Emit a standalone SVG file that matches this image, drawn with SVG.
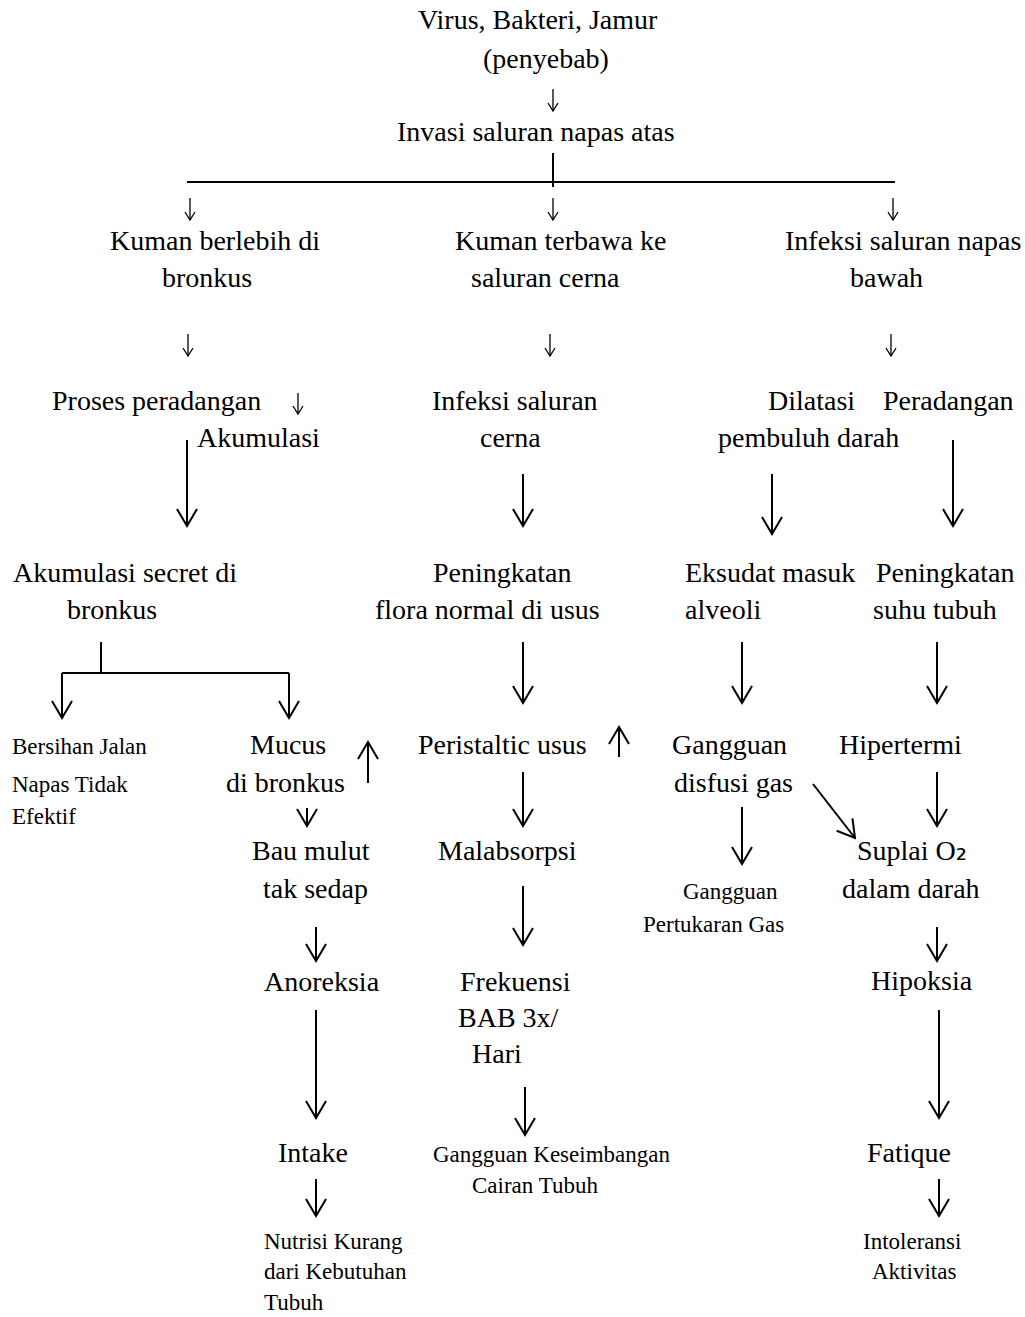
<svg xmlns="http://www.w3.org/2000/svg" width="1025" height="1317" viewBox="0 0 1025 1317">
<style>
text{font-family:"Liberation Serif","Times New Roman",serif;fill:#000}
.m{font-size:28px}
.s{font-size:23px}
.sub{font-family:"DejaVu Sans",sans-serif}
.ln{stroke:#000;stroke-width:2;fill:none}
.ar{stroke:#000;stroke-width:2;fill:none;marker-end:url(#big)}
.th{stroke:#000;stroke-width:1.3;fill:none;marker-end:url(#thin)}
</style>
<defs>
<marker id="big" markerUnits="userSpaceOnUse" orient="auto" refX="0" refY="0" markerWidth="24" markerHeight="26" viewBox="-21 -13 24 26" overflow="visible">
<path d="M-17,-10 L0,0 L-17,10" fill="none" stroke="#000" stroke-width="2"/>
</marker>
<marker id="thin" markerUnits="userSpaceOnUse" orient="auto" refX="0" refY="0" markerWidth="14" markerHeight="14" viewBox="-10 -7 14 14" overflow="visible">
<path d="M-8,-5 L0,0 L-8,5" fill="none" stroke="#000" stroke-width="1.3"/>
</marker>
</defs>
<rect width="1025" height="1317" fill="#fff"/>
<g id="connectors">
<line class="th" x1="553" y1="89" x2="553" y2="111"/>
<line class="ln" x1="553" y1="153" x2="553" y2="187"/>
<line class="ln" x1="187" y1="182" x2="895" y2="182"/>
<line class="th" x1="190" y1="198" x2="190" y2="220"/>
<line class="th" x1="553" y1="198" x2="553" y2="220"/>
<line class="th" x1="893" y1="198" x2="893" y2="220"/>
<line class="th" x1="188" y1="334" x2="188" y2="356"/>
<line class="th" x1="550" y1="334" x2="550" y2="356"/>
<line class="th" x1="891" y1="334" x2="891" y2="356"/>
<line class="th" x1="298" y1="393" x2="298" y2="414"/>
<line class="ar" x1="187" y1="440" x2="187" y2="526"/>
<line class="ar" x1="523" y1="474" x2="523" y2="526"/>
<line class="ar" x1="772" y1="474" x2="772" y2="534"/>
<line class="ar" x1="953" y1="440" x2="953" y2="526"/>
<line class="ln" x1="101" y1="642" x2="101" y2="673"/>
<line class="ln" x1="62" y1="673" x2="289" y2="673"/>
<line class="ar" x1="62" y1="673" x2="62" y2="718"/>
<line class="ar" x1="289" y1="673" x2="289" y2="718"/>
<line class="ar" x1="523" y1="642" x2="523" y2="703"/>
<line class="ar" x1="742" y1="642" x2="742" y2="703"/>
<line class="ar" x1="937" y1="642" x2="937" y2="703"/>
<line class="ar" x1="368" y1="783" x2="368" y2="742"/>
<line class="ar" x1="619" y1="757" x2="619" y2="727"/>
<line class="ar" x1="307" y1="808" x2="307" y2="826"/>
<line class="ar" x1="316" y1="927" x2="316" y2="961"/>
<line class="ar" x1="316" y1="1010" x2="316" y2="1118"/>
<line class="ar" x1="316" y1="1179" x2="316" y2="1216"/>
<line class="ar" x1="523" y1="772" x2="523" y2="826"/>
<line class="ar" x1="523" y1="886" x2="523" y2="945"/>
<line class="ar" x1="525" y1="1087" x2="525" y2="1135"/>
<line class="ar" x1="742" y1="807" x2="742" y2="864"/>
<line class="ar" x1="813" y1="784" x2="855" y2="838"/>
<line class="ar" x1="937" y1="772" x2="937" y2="826"/>
<line class="ar" x1="937" y1="927" x2="937" y2="961"/>
<line class="ar" x1="939" y1="1010" x2="939" y2="1118"/>
<line class="ar" x1="939" y1="1179" x2="939" y2="1216"/>
</g>
<g id="n-virus" class="m"><text x="418" y="29">Virus, Bakteri, Jamur</text><text x="483" y="68">(penyebab)</text></g>
<g id="n-invasi" class="m"><text x="397" y="141">Invasi saluran napas atas</text></g>
<g id="n-kuman-bronkus" class="m"><text x="110" y="250">Kuman berlebih di</text><text x="162" y="287">bronkus</text></g>
<g id="n-kuman-cerna" class="m"><text x="455" y="250">Kuman terbawa ke</text><text x="471" y="287">saluran cerna</text></g>
<g id="n-infeksi-bawah" class="m"><text x="785" y="250">Infeksi saluran napas</text><text x="850" y="287">bawah</text></g>
<g id="n-proses" class="m"><text x="52" y="410">Proses peradangan</text><text x="197" y="447">Akumulasi</text></g>
<g id="n-infeksi-cerna" class="m"><text x="432" y="410">Infeksi saluran</text><text x="480" y="447">cerna</text></g>
<g id="n-dilatasi" class="m"><text x="768" y="410">Dilatasi</text><text x="718" y="447">pembuluh darah</text></g>
<g id="n-peradangan" class="m"><text x="883" y="410">Peradangan</text></g>
<g id="n-akumulasi" class="m"><text x="13" y="582">Akumulasi secret di</text><text x="67" y="619">bronkus</text></g>
<g id="n-flora" class="m"><text x="433" y="582">Peningkatan</text><text x="375" y="619">flora normal di usus</text></g>
<g id="n-eksudat" class="m"><text x="685" y="582">Eksudat masuk</text><text x="685" y="619">alveoli</text></g>
<g id="n-suhu" class="m"><text x="876" y="582">Peningkatan</text><text x="873" y="619">suhu tubuh</text></g>
<g id="n-bersihan" class="s"><text x="12" y="754">Bersihan Jalan</text><text x="12" y="792">Napas Tidak</text><text x="12" y="824">Efektif</text></g>
<g id="n-mucus" class="m"><text x="250" y="754">Mucus</text><text x="226" y="792">di bronkus</text></g>
<g id="n-bau" class="m"><text x="252" y="860">Bau mulut</text><text x="263" y="898">tak sedap</text></g>
<g id="n-anoreksia" class="m"><text x="264" y="991">Anoreksia</text></g>
<g id="n-intake" class="m"><text x="278" y="1162">Intake</text></g>
<g id="n-nutrisi" class="s"><text x="264" y="1249">Nutrisi Kurang</text><text x="264" y="1279">dari Kebutuhan</text><text x="264" y="1310">Tubuh</text></g>
<g id="n-peristaltic" class="m"><text x="418" y="754">Peristaltic usus</text></g>
<g id="n-malabsorpsi" class="m"><text x="438" y="860">Malabsorpsi</text></g>
<g id="n-frekuensi" class="m"><text x="460" y="991">Frekuensi</text><text x="458" y="1027">BAB 3x/</text><text x="472" y="1063">Hari</text></g>
<g id="n-cairan" class="s"><text x="433" y="1162">Gangguan Keseimbangan</text><text x="472" y="1193">Cairan Tubuh</text></g>
<g id="n-disfusi" class="m"><text x="672" y="754">Gangguan</text><text x="674" y="792">disfusi gas</text></g>
<g id="n-pertukaran" class="s"><text x="683" y="899">Gangguan</text><text x="643" y="932">Pertukaran Gas</text></g>
<g id="n-hipertermi" class="m"><text x="839" y="754">Hipertermi</text></g>
<g id="n-suplai" class="m"><text x="857" y="860">Suplai O<tspan class="sub">₂</tspan></text><text x="842" y="898">dalam darah</text></g>
<g id="n-hipoksia" class="m"><text x="871" y="990">Hipoksia</text></g>
<g id="n-fatique" class="m"><text x="867" y="1162">Fatique</text></g>
<g id="n-intoleransi" class="s"><text x="863" y="1249">Intoleransi</text><text x="872" y="1279">Aktivitas</text></g>
</svg>
